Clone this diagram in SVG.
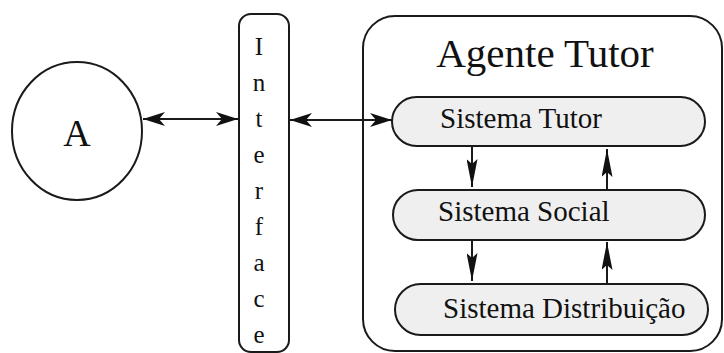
<svg xmlns="http://www.w3.org/2000/svg" width="724" height="353" viewBox="0 0 724 353">
  <style>
    .shape { fill: none; stroke: #1a1a1a; stroke-width: 2; }
    .pill { fill: #efefef; stroke: #1a1a1a; stroke-width: 2; }
    .txt { font-family: "Liberation Serif", "Times New Roman", serif; fill: #111; }
    .link { stroke: #1a1a1a; stroke-width: 2; fill: none; }
  </style>
  <defs>
    <marker id="headH" viewBox="0 0 22 14" refX="22" refY="7" markerWidth="22" markerHeight="14" markerUnits="userSpaceOnUse" orient="auto-start-reverse">
      <path d="M0,0 L22,7 L0,14 L6,7 Z" fill="#111"/>
    </marker>
    <marker id="headV" viewBox="0 0 28 11" refX="28" refY="5.5" markerWidth="28" markerHeight="11" markerUnits="userSpaceOnUse" orient="auto">
      <path d="M0,0 L28,5.5 L0,11 L5,5.5 Z" fill="#111"/>
    </marker>
  </defs>
  <rect width="724" height="353" fill="#ffffff"/>

  <!-- actor A -->
  <g id="actor-a">
    <ellipse class="shape" cx="77" cy="131" rx="65" ry="69"/>
    <text class="txt" x="77" y="146" font-size="38" text-anchor="middle">A</text>
  </g>

  <!-- vertical interface bar -->
  <g id="interface">
    <rect class="shape" x="239" y="14" width="50" height="338" rx="12"/>
    <g class="txt" font-size="25" text-anchor="middle">
      <text x="259" y="55">I</text>
      <text x="259" y="91">n</text>
      <text x="259" y="127">t</text>
      <text x="259" y="163">e</text>
      <text x="259" y="199">r</text>
      <text x="259" y="235">f</text>
      <text x="259" y="271">a</text>
      <text x="259" y="307">c</text>
      <text x="259" y="343">e</text>
    </g>
  </g>

  <!-- tutor agent container -->
  <g id="agente-tutor">
    <rect class="shape" x="363" y="16" width="359" height="335" rx="32"/>
    <text class="txt" x="545" y="67" font-size="41" text-anchor="middle">Agente Tutor</text>
  </g>

  <g id="sistema-tutor">
    <rect class="pill" x="392" y="97" width="313" height="49" rx="24.5"/>
    <text class="txt" x="440" y="128" font-size="29">Sistema Tutor</text>
  </g>

  <g id="sistema-social">
    <rect class="pill" x="393" y="190" width="312" height="50" rx="25"/>
    <text class="txt" x="438" y="221" font-size="29">Sistema Social</text>
  </g>

  <g id="sistema-distribuicao">
    <rect class="pill" x="395" y="284" width="313" height="51" rx="25.5"/>
    <text class="txt" x="443" y="318" font-size="29">Sistema Distribuição</text>
  </g>

  <!-- connectors -->
  <g id="connectors">
    <line class="link" x1="143" y1="119" x2="238" y2="119" marker-start="url(#headH)" marker-end="url(#headH)"/>
    <line class="link" x1="290" y1="120" x2="392" y2="120" marker-start="url(#headH)" marker-end="url(#headH)"/>
    <line class="link" x1="472" y1="147" x2="472" y2="187" marker-end="url(#headV)"/>
    <line class="link" x1="607" y1="190" x2="607" y2="149" marker-end="url(#headV)"/>
    <line class="link" x1="472" y1="241" x2="472" y2="281" marker-end="url(#headV)"/>
    <line class="link" x1="607" y1="284" x2="607" y2="242" marker-end="url(#headV)"/>
  </g>
</svg>
